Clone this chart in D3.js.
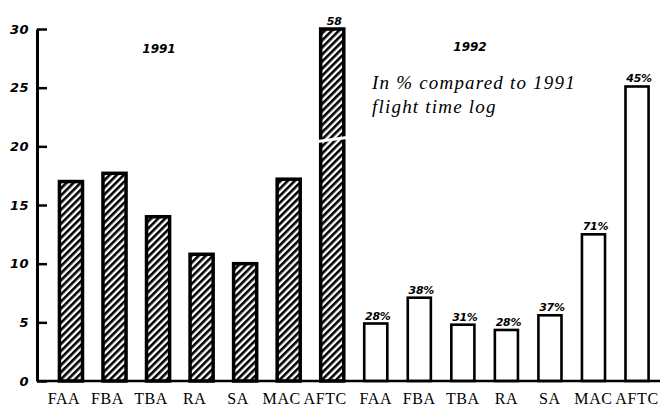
<!DOCTYPE html>
<html>
<head>
<meta charset="utf-8">
<script src="https://cdn.jsdelivr.net/npm/d3@7"></script>
<style>
  body { margin: 0; background: #fff; }
  svg { display: block; }
</style>
</head>
<body>
<div id="chart"></div>
<script>
// data
var units = ["FAA", "FBA", "TBA", "RA", "SA", "MAC", "AFTC"];
var values1991 = [17.0, 17.7, 14.0, 10.8, 10.0, 17.2, 58];
var values1992 = [4.9, 7.1, 4.8, 4.35, 5.6, 12.5, 25.1];
var labels1992 = ["28%", "38%", "31%", "28%", "37%", "71%", "45%"];
var yTicks = [0, 5, 10, 15, 20, 25, 30];

var width = 667, height = 406;

var svg = d3.select("#chart")
    .append("svg")
    .attr("width", width)
    .attr("height", height);

// hatch for 1991 bars
var defs = svg.append("defs");
defs.append("pattern")
    .attr("id", "hatch")
    .attr("patternUnits", "userSpaceOnUse")
    .attr("width", 5)
    .attr("height", 5)
    .attr("patternTransform", "rotate(45)")
    .append("rect")
    .attr("width", 2.6)
    .attr("height", 5)
    .attr("fill", "#000");

var bars = [];
units.forEach(function (u, i) {
    bars.push({ key: "1991-" + u, unit: u, year: 1991, value: values1991[i], label: i == 6 ? "58" : null });
});
units.forEach(function (u, i) {
    bars.push({ key: "1992-" + u, unit: u, year: 1992, value: values1992[i], label: labels1992[i] });
});

// x scale
var x = d3.scaleBand()
    .domain(bars.map(function (d) { return d.key }))
    .range([49.2, 658.8])
    .paddingInner(0.47)
    .paddingOuter(0.235);

// y scale
var y = d3.scaleLinear().domain([0, 30]).range([381, 29]).clamp(true);

// bars
svg.selectAll(".bar")
    .data(bars)
    .enter()
    .append("rect")
    .attr("class", "bar")
    .attr("x", function (d) { return x(d.key) })
    .attr("y", function (d) { return y(d.value) })
    .attr("width", x.bandwidth())
    .attr("height", function (d) { return y(0) - y(d.value) })
    .attr("fill", function (d) { return d.year == 1991 ? "url(#hatch)" : "#fff" })
    .attr("stroke", "#000")
    .attr("stroke-width", function (d) { return d.year == 1991 ? 3.5 : 2.6 });

// break in the AFTC 1991 bar
var aftc = bars[6];
var bx = x(aftc.key), bw = x.bandwidth(), by = y(20.8);
svg.append("polygon")
    .attr("points", [
        [bx - 3, by + 3], [bx + bw + 3, by - 1],
        [bx + bw + 3, by + 2], [bx - 3, by + 6]
    ].join(" "))
    .attr("fill", "#fff");

// value labels
svg.selectAll(".vlabel")
    .data(bars.filter(function (d) { return d.label }))
    .enter()
    .append("text")
    .attr("class", "vlabel")
    .attr("x", function (d) { return x(d.key) + x.bandwidth() / 2 + 2 })
    .attr("y", function (d) { return y(d.value) - 4 })
    .attr("text-anchor", "middle")
    .attr("font-family", "DejaVu Sans")
    .attr("font-style", "italic")
    .attr("font-weight", "bold")
    .style("font-size", "11px")
    .attr("letter-spacing", "-0.3")
    .text(function (d) { return d.label });

// y axis
var yAxis = d3.axisLeft(y)
    .tickValues(yTicks)
    .tickSizeInner(-10)
    .tickSizeOuter(0)
    .tickPadding(8)
    .tickFormat(d3.format("d"));

var gy = svg.append("g")
    .attr("transform", "translate(37,0)")
    .call(yAxis);
gy.select(".domain").attr("stroke-width", 3);
gy.selectAll(".tick line").attr("stroke-width", 2.5);
gy.selectAll(".tick text")
    .attr("font-family", "DejaVu Sans")
    .attr("font-style", "italic")
    .attr("font-weight", "bold")
    .style("font-size", "13px")
    .attr("letter-spacing", "0.5")
    .attr("fill", "#000");

// x axis baseline + category labels
var xAxis = d3.axisBottom(x)
    .tickSize(0)
    .tickPadding(12)
    .tickFormat(function (k) { return k.split("-")[1] });

var gx = svg.append("g")
    .attr("transform", "translate(0," + y(0) + ")")
    .call(xAxis);
gx.select(".domain")
    .attr("d", "M-12,0H611")
    .attr("transform", "translate(49,0)")
    .attr("stroke-width", 2.6);
gx.selectAll(".tick text")
    .attr("font-family", "Liberation Serif")
    .style("font-size", "16px")
    .attr("letter-spacing", "0.6")
    .attr("dx", function (k) { return k.indexOf("1991") == 0 ? -7 : 0 })
    .attr("fill", "#000");

// year titles
svg.append("text")
    .attr("x", 159).attr("y", 53)
    .attr("text-anchor", "middle")
    .attr("font-family", "DejaVu Sans")
    .attr("font-style", "italic")
    .attr("font-weight", "bold")
    .style("font-size", "12px")
    .text("1991");

svg.append("text")
    .attr("x", 470).attr("y", 51)
    .attr("text-anchor", "middle")
    .attr("font-family", "DejaVu Sans")
    .attr("font-style", "italic")
    .attr("font-weight", "bold")
    .style("font-size", "12px")
    .text("1992");

// note
var note = svg.append("text")
    .attr("font-family", "Liberation Serif")
    .attr("font-style", "italic")
    .attr("letter-spacing", "1.2")
    .style("font-size", "19px");
note.append("tspan").attr("x", 372).attr("y", 89).text("In % compared to 1991");
note.append("tspan").attr("x", 372).attr("y", 113).text("flight time log");
</script>
</body>
</html>
